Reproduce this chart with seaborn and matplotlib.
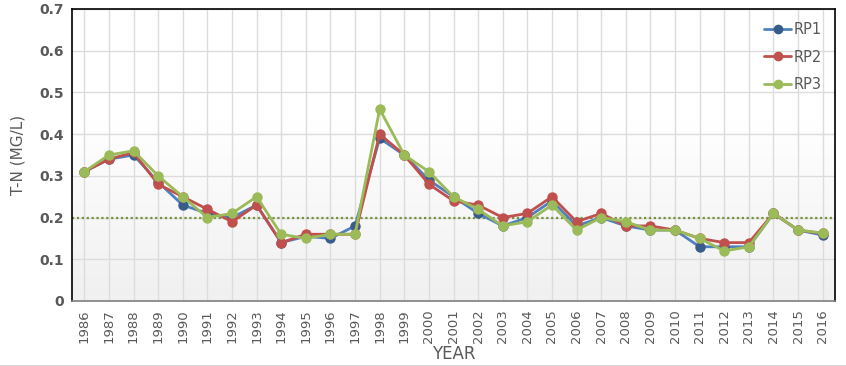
import numpy as np
import pandas as pd
import seaborn as sns
import matplotlib.pyplot as plt
from matplotlib.lines import Line2D

years = list(range(1986, 2017))
rp1 = [0.31, 0.34, 0.35, 0.285, 0.23, 0.21, 0.20, 0.23, 0.14, 0.155, 0.15,
       0.18, 0.39, 0.35, 0.29, 0.25, 0.21, 0.18, 0.20, 0.24, 0.18, 0.20,
       0.18, 0.17, 0.17, 0.13, 0.13, 0.13, 0.21, 0.17, 0.158]
rp2 = [0.31, 0.34, 0.356, 0.28, 0.25, 0.22, 0.19, 0.23, 0.14, 0.16, 0.16,
       0.16, 0.40, 0.35, 0.28, 0.24, 0.23, 0.20, 0.21, 0.25, 0.19, 0.21,
       0.18, 0.18, 0.17, 0.15, 0.14, 0.14, 0.21, 0.17, 0.162]
rp3 = [0.31, 0.35, 0.36, 0.30, 0.25, 0.20, 0.21, 0.25, 0.16, 0.15, 0.16,
       0.16, 0.46, 0.35, 0.31, 0.25, 0.22, 0.18, 0.19, 0.23, 0.17, 0.20,
       0.19, 0.17, 0.17, 0.15, 0.12, 0.13, 0.21, 0.17, 0.163]
series_names = ['RP1', 'RP2', 'RP3']
line_colors = ['#4F81BD', '#C0504D', '#9BBB59']
marker_colors = ['#385D8A', '#C0504D', '#9BBB59']
reference_level = 0.2
yticks = [0, 0.1, 0.2, 0.3, 0.4, 0.5, 0.6, 0.7]
ytick_labels = ['0', '0.1', '0.2', '0.3', '0.4', '0.5', '0.6', '0.7']

df = pd.DataFrame({'year': years, 'RP1': rp1, 'RP2': rp2, 'RP3': rp3})
mdf = pd.melt(df, id_vars=['year'], var_name='series', value_name='tn')

sns.set_style('white')
plt.rcParams['font.family'] = ['DejaVu Sans']
text_gray = '#595959'

fig = plt.figure(figsize=(8.46, 3.66), dpi=100)
ax = fig.add_axes([72 / 846, 1 - 301 / 366, (835 - 72) / 846, (301 - 9) / 366])

# background gradient: white on top, light gray at bottom
grad = np.linspace(1.0, 0.0, 256).reshape(-1, 1)
grad = np.clip(grad * 1.6, 0, 1)
ax.imshow(grad, cmap=sns.blend_palette(['#F0F0F0', '#FFFFFF'], as_cmap=True),
          aspect='auto', extent=[1985.5, 2016.5, 0, 0.7], zorder=0, vmin=0, vmax=1)

for y in yticks[1:]:
    ax.axhline(y, color='#DCDCDC', lw=1, zorder=1)
for yr in years:
    ax.axvline(yr, color='#DCDCDC', lw=1, zorder=1)

sns.lineplot(data=mdf, x='year', y='tn', hue='series', palette=line_colors,
             marker='o', markersize=7.5, linewidth=2, markeredgewidth=0,
             legend=False, ax=ax, zorder=3)
for line, mc in zip(ax.get_lines()[-3:], marker_colors):
    line.set_markerfacecolor(mc)
    line.set_markeredgecolor(mc)

ax.axhline(reference_level, color='#76923C', lw=1.6, ls=(0, (1, 1.2)), zorder=2)

ax.set_xlim(1985.5, 2016.5)
ax.set_ylim(0, 0.7)
ax.set_xticks(years)
ax.set_xticklabels([str(y) for y in years], rotation=90, fontsize=9.5, color=text_gray)
ax.set_yticks(yticks)
ax.set_yticklabels(ytick_labels, fontsize=10, color=text_gray, fontweight='bold')
ax.tick_params(axis='both', length=0, pad=6)
ax.set_xlabel('YEAR', fontsize=12, color=text_gray, family='Liberation Sans Narrow', labelpad=1)
ax.set_ylabel('T-N (MG/L)', fontsize=11, color=text_gray, labelpad=10)

for side in ['left', 'top', 'right']:
    ax.spines[side].set_color('black')
    ax.spines[side].set_linewidth(1.2)
ax.spines['bottom'].set_color('#7F7F7F')
ax.spines['bottom'].set_linewidth(1.2)

handles = [Line2D([0], [0], color=lc, lw=2, marker='o', markersize=6,
                  markerfacecolor=mc, markeredgecolor=mc)
           for lc, mc in zip(line_colors, marker_colors)]
leg = ax.legend(handles, series_names, loc='upper right', frameon=False,
                fontsize=10.5, handlelength=1.9, handletextpad=0.15,
                labelspacing=0.85, bbox_to_anchor=(1.0, 1.0))
for t in leg.get_texts():
    t.set_color(text_gray)

fig.add_artist(Line2D([0, 1], [0.5 / 366, 0.5 / 366], color='#D9D9D9', lw=1.5))

fig.savefig('out.png', dpi=100)
